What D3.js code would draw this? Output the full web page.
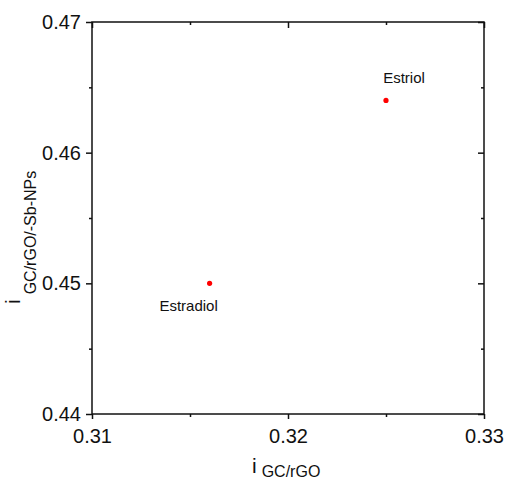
<!DOCTYPE html>
<html>
<head>
<meta charset="utf-8">
<script src="https://cdn.jsdelivr.net/npm/d3@7"></script>
<style>
  body { margin: 0; background: #fff; }
  svg { display: block; font-family: "Liberation Sans", Arial, sans-serif; }
  .tick text { fill: #111; }
</style>
</head>
<body>
<div id="chart"></div>
<script>
// data
const NAMES = ["Estradiol", "Estriol"]
const XVALS = [0.316, 0.325]
const YVALS = [0.450, 0.464]

const XTICKS = [0.31, 0.32, 0.33]
const XMINOR = [0.315, 0.325]
const YTICKS = [0.44, 0.45, 0.46, 0.47]
const YMINOR = [0.445, 0.455, 0.465]

const WIDTH = 505
const HEIGHT = 479
const LEFT = 92
const TOP = 22
const PW = 392
const PH = 392

const xScale = d3.scaleLinear().domain([0.31, 0.33]).range([0, PW])
const yScale = d3.scaleLinear().domain([0.44, 0.47]).range([PH, 0])

const svg = d3.select("#chart")
  .append("svg")
  .attr("width", WIDTH)
  .attr("height", HEIGHT)

const g = svg.append("g").attr("transform", `translate(${LEFT},${TOP})`)

// helper: strip the domain path, style tick lines
function styleAxis(sel, size) {
  sel.select(".domain").remove()
  sel.selectAll(".tick line").attr("stroke", "#111").attr("stroke-width", 1.5)
  sel.selectAll(".tick text").attr("font-size", size || 20)
}

// left axis (outward ticks)
g.append("g")
  .call(d3.axisLeft(yScale).tickValues(YTICKS).tickSize(6).tickPadding(5).tickFormat(d3.format(".2f")))
  .call(styleAxis)
g.append("g")
  .call(d3.axisLeft(yScale).tickValues(YMINOR).tickSize(3).tickFormat(""))
  .call(styleAxis)

// bottom axis (outward ticks)
g.append("g")
  .attr("transform", `translate(0,${PH})`)
  .call(d3.axisBottom(xScale).tickValues(XTICKS).tickSize(5).tickPadding(10).tickFormat(d3.format(".2f")))
  .call(styleAxis)
g.append("g")
  .attr("transform", `translate(0,${PH})`)
  .call(d3.axisBottom(xScale).tickValues(XMINOR).tickSize(3).tickFormat(""))
  .call(styleAxis)

// top and right mirror axes (inward ticks)
g.append("g")
  .call(d3.axisBottom(xScale).tickValues(XTICKS).tickSize(6).tickFormat(""))
  .call(styleAxis)
g.append("g")
  .call(d3.axisBottom(xScale).tickValues(XMINOR).tickSize(3).tickFormat(""))
  .call(styleAxis)
g.append("g")
  .attr("transform", `translate(${PW},0)`)
  .call(d3.axisLeft(yScale).tickValues(YTICKS).tickSize(6).tickFormat(""))
  .call(styleAxis)
g.append("g")
  .attr("transform", `translate(${PW},0)`)
  .call(d3.axisLeft(yScale).tickValues(YMINOR).tickSize(3).tickFormat(""))
  .call(styleAxis)

// frame
g.append("rect")
  .attr("width", PW)
  .attr("height", PH)
  .attr("fill", "none")
  .attr("stroke", "#111")
  .attr("stroke-width", 1.5)

// points
const pts = NAMES.map((n, i) => ({ name: n, x: XVALS[i], y: YVALS[i] }))

g.selectAll("circle")
  .data(pts)
  .enter()
  .append("circle")
  .attr("cx", d => xScale(d.x))
  .attr("cy", d => yScale(d.y))
  .attr("r", 2.6)
  .attr("fill", "#ff0000")

// label placement relative to each point
const labelPos = { Estradiol: [-21, 28], Estriol: [18, -17] }
g.selectAll(".plabel")
  .data(pts)
  .enter()
  .append("text")
  .attr("class", "plabel")
  .attr("x", d => xScale(d.x) + labelPos[d.name][0])
  .attr("y", d => yScale(d.y) + labelPos[d.name][1])
  .attr("text-anchor", "middle")
  .attr("font-size", 15)
  .attr("fill", "#111")
  .text(d => d.name)

// x axis title
const xt = svg.append("text")
  .attr("x", 252)
  .attr("y", 473)
  .attr("fill", "#111")
xt.append("tspan").attr("font-size", 21).text("i")
xt.append("tspan").attr("font-size", 16).attr("dx", 5).attr("dy", 4).text("GC/rGO")

// y axis title
const yt = svg.append("text")
  .attr("transform", "translate(20,304) rotate(-90)")
  .attr("fill", "#111")
yt.append("tspan").attr("font-size", 21).text("i")
yt.append("tspan").attr("font-size", 16).attr("dx", 5).attr("dy", 16).text("GC/rGO/-Sb-NPs")
</script>
</body>
</html>
